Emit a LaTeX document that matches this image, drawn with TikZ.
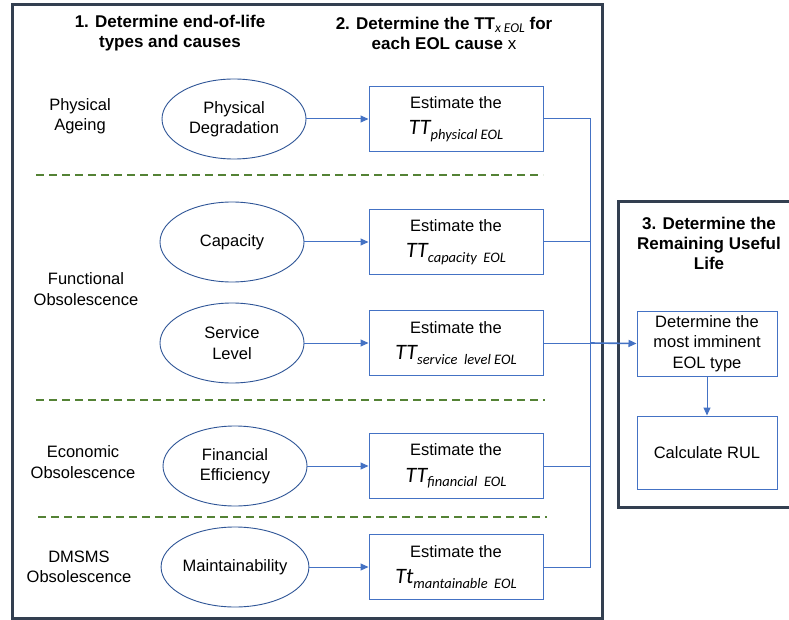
\documentclass[tikz,border=0pt]{standalone}
\usepackage{fontspec}
\setmainfont{Liberation Sans}
\newfontfamily\carl{Carlito}
\usetikzlibrary{shapes.geometric,arrows.meta}
\definecolor{frame}{HTML}{333F50}
\definecolor{bl}{HTML}{4472C4}
\definecolor{dbl}{HTML}{2F5597}
\definecolor{grn}{HTML}{548235}
\newcommand\TTsub[2]{{\carl\itshape\fontsize{22}{22}\selectfont #1}\raisebox{-4.5pt}{\carl\itshape\fontsize{14.5}{14.5}\selectfont #2}}
\begin{document}
\begin{tikzpicture}[x=1pt,y=-1pt,
 txt/.style={font=\fontsize{16.5}{20.5}\selectfont, align=center, inner sep=0pt},
 ttl/.style={font=\bfseries\fontsize{17}{20}\selectfont, align=center, inner sep=0pt},
 ell/.style={ellipse, draw=dbl, line width=0.9pt, minimum width=144pt, minimum height=80pt, inner sep=0pt, txt},
 est/.style={rectangle, draw=bl, line width=1pt, minimum width=174pt, minimum height=65pt, txt},
 rbox/.style={rectangle, draw=bl, line width=1pt, minimum width=140pt, txt},
 arr/.style={draw=bl, line width=1pt, -{Triangle[length=8pt,width=7pt]}},
 con/.style={draw=bl, line width=1pt},
 sep/.style={draw=grn, line width=2pt, dash pattern=on 8pt off 5pt},
 frm/.style={draw=frame, line width=3pt}]
\useasboundingbox (0,0) rectangle (789,620);
\fill[white] (0,0) rectangle (789,620);
% frames
\draw[frm] (12,5) rectangle (602,618);
\draw[frm] (618,202) rectangle (800,507);
% titles
\node[ttl] (t1) at (170,33) {1. Determine end-of-life\\types and causes};
\node[ttl] (t2) at (444,33) {2. Determine the TT\raisebox{-3pt}{\mdseries\carl\itshape\fontsize{13.5}{13.5}\selectfont x EOL} for\\each EOL cause {\mdseries x}};
\node[ttl] (t3) at (709,243) {3. Determine the\\Remaining Useful\\Life};
% left labels
\node[txt] (l1) at (80,116) {Physical\\Ageing};
\node[txt] (l2) at (86,289) {Functional\\Obsolescence};
\node[txt] (l3) at (83,462) {Economic\\Obsolescence};
\node[txt] (l4) at (79,567) {DMSMS\\Obsolescence};
% separators
\draw[sep] (36,175) -- (543,175);
\draw[sep] (36,400) -- (545,400);
\draw[sep] (38,517) -- (547,517);
% ellipses
\node[ell] (e1) at (234,119) {Physical\\Degradation};
\node[ell] (e2) at (232,242) {Capacity};
\node[ell] (e3) at (232,343) {Service\\Level};
\node[ell] (e4) at (235,466) {Financial\\Efficiency};
\node[ell] (e5) at (235,567) {Maintainability};
% estimate boxes
\node[est] (b1) at (456,119) {Estimate the\\[6pt]\TTsub{TT}{physical EOL}};
\node[est] (b2) at (456,242) {Estimate the\\[6pt]\TTsub{TT}{capacity\ \ EOL}};
\node[est] (b3) at (456,343) {Estimate the\\[6pt]\TTsub{TT}{service\ \ level EOL}};
\node[est] (b4) at (456,466) {Estimate the\\[6pt]\TTsub{TT}{financial\ \ EOL}};
\node[est] (b5) at (456,567) {Estimate the\\[6pt]\TTsub{Tt}{mantainable\ \ EOL}};
% arrows ellipse -> box
\foreach \i in {1,...,5} \draw[arr] (e\i) -- (b\i);
% right boxes
\node[rbox, minimum height=65pt] (d1) at (707,343.5) {Determine the\\most imminent\\EOL type};
\node[rbox, minimum height=73pt] (d2) at (707,452.5) {Calculate RUL};
% bus
\coordinate (j1) at (590,119);
\coordinate (j2) at (590,242);
\coordinate (j3) at (590,343);
\coordinate (j4) at (590,466);
\coordinate (j5) at (590,567);
\draw[con] (b1.east) -- (j1) -- (j5) -- (b5.east);
\draw[con] (b2.east) -- (j2);
\draw[con] (b3.east) -- (j3);
\draw[con] (b4.east) -- (j4);
\draw[arr, line width=1.6pt] (j3) -- (d1.west);
\draw[arr] (d1.south) -- (d2.north);
\end{tikzpicture}
\end{document}
